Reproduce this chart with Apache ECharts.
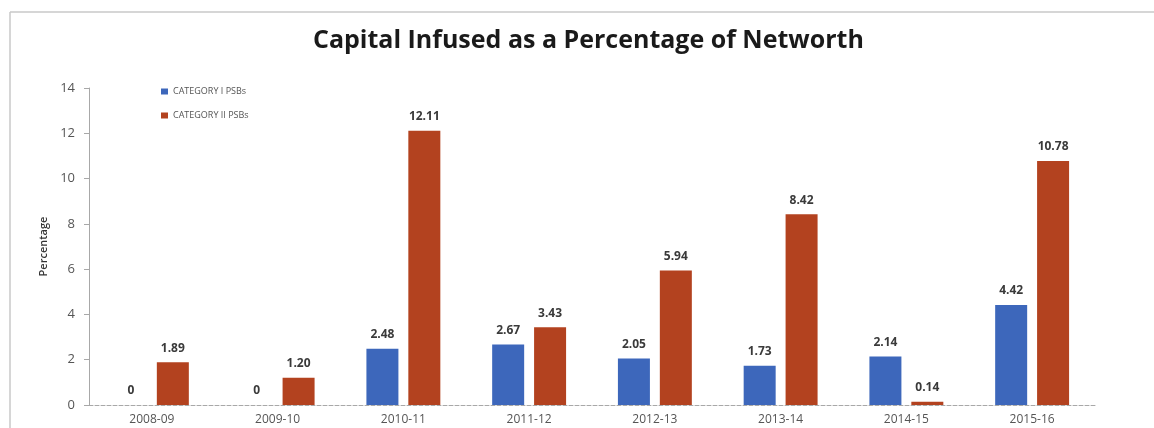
<!DOCTYPE html>
<html>
<head>
<meta charset="utf-8">
<script src="https://cdn.jsdelivr.net/npm/echarts@6/dist/echarts.min.js"></script>
<style>
  html, body { margin: 0; padding: 0; background: #fff; }
  #chart { width: 1154px; height: 428px; }
</style>
</head>
<body>
<div id="chart"></div>
<script>
// Fiscal years on the category axis
const years = ['2008-09', '2009-10', '2010-11', '2011-12', '2012-13', '2013-14', '2014-15', '2015-16'];
// Capital infused as % of networth
const categoryI = [0, 0, 2.48, 2.67, 2.05, 1.73, 2.14, 4.42];
const categoryII = [1.89, 1.20, 12.11, 3.43, 5.94, 8.42, 0.14, 10.78];
const seriesNames = ['CATEGORY I PSBs', 'CATEGORY II PSBs'];
const yTicks = { min: 0, max: 14, interval: 2 };

const chart = echarts.init(document.getElementById('chart'));

const valueLabel = {
  show: true,
  position: 'top',
  distance: 8,
  fontFamily: 'Open Sans',
  fontWeight: 'bold',
  fontSize: 12,
  color: '#3a3a3a',
  formatter: p => (p.value === 0 ? '0' : p.value.toFixed(2))
};

chart.setOption({
  animation: false,
  backgroundColor: '#ffffff',
  title: {
    text: 'Capital Infused as a Percentage of Networth',
    left: 308,
    top: 23,
    textStyle: { fontFamily: 'Open Sans', fontWeight: 'bold', fontSize: 25, color: '#1a1a1a' }
  },
  legend: {
    orient: 'vertical',
    left: 156,
    top: 82,
    itemWidth: 7,
    itemHeight: 6,
    itemGap: 15,
    icon: 'rect',
    textStyle: { fontFamily: 'Open Sans', fontSize: 9, color: '#555' },
    data: seriesNames
  },
  graphic: [
    { type: 'line', shape: { x1: 10, y1: 12, x2: 1154, y2: 12 }, style: { stroke: '#c9c9c9', lineWidth: 1.5 } },
    { type: 'line', shape: { x1: 10, y1: 12, x2: 10, y2: 428 }, style: { stroke: '#c9c9c9', lineWidth: 1.5 } }
  ],
  grid: { left: 89, right: 59, top: 88, bottom: 23 },
  xAxis: {
    type: 'category',
    data: years,
    axisLine: { show: true, lineStyle: { color: '#a8a8a8', type: 'dashed', width: 1 } },
    axisTick: { show: false },
    axisLabel: { fontFamily: 'Open Sans', fontSize: 12, color: '#555', margin: 9 }
  },
  yAxis: {
    type: 'value',
    min: yTicks.min,
    max: yTicks.max,
    interval: yTicks.interval,
    name: 'Percentage',
    nameLocation: 'middle',
    nameGap: 40,
    nameTextStyle: { fontFamily: 'Open Sans', fontSize: 11, fontWeight: 600, color: '#333' },
    axisLine: { show: true, lineStyle: { color: '#a8a8a8', width: 1 } },
    axisTick: { show: true, length: 5, lineStyle: { color: '#a8a8a8' } },
    axisLabel: { fontFamily: 'Open Sans', fontSize: 13, color: '#555', margin: 14 },
    splitLine: { show: false }
  },
  series: [
    {
      name: seriesNames[0],
      type: 'bar',
      data: categoryI,
      barWidth: 32,
      barGap: '31%',
      itemStyle: { color: '#3d67bb' },
      label: valueLabel
    },
    {
      name: seriesNames[1],
      type: 'bar',
      data: categoryII,
      barWidth: 32,
      itemStyle: { color: '#b3421f' },
      label: valueLabel
    }
  ]
});
</script>
</body>
</html>
